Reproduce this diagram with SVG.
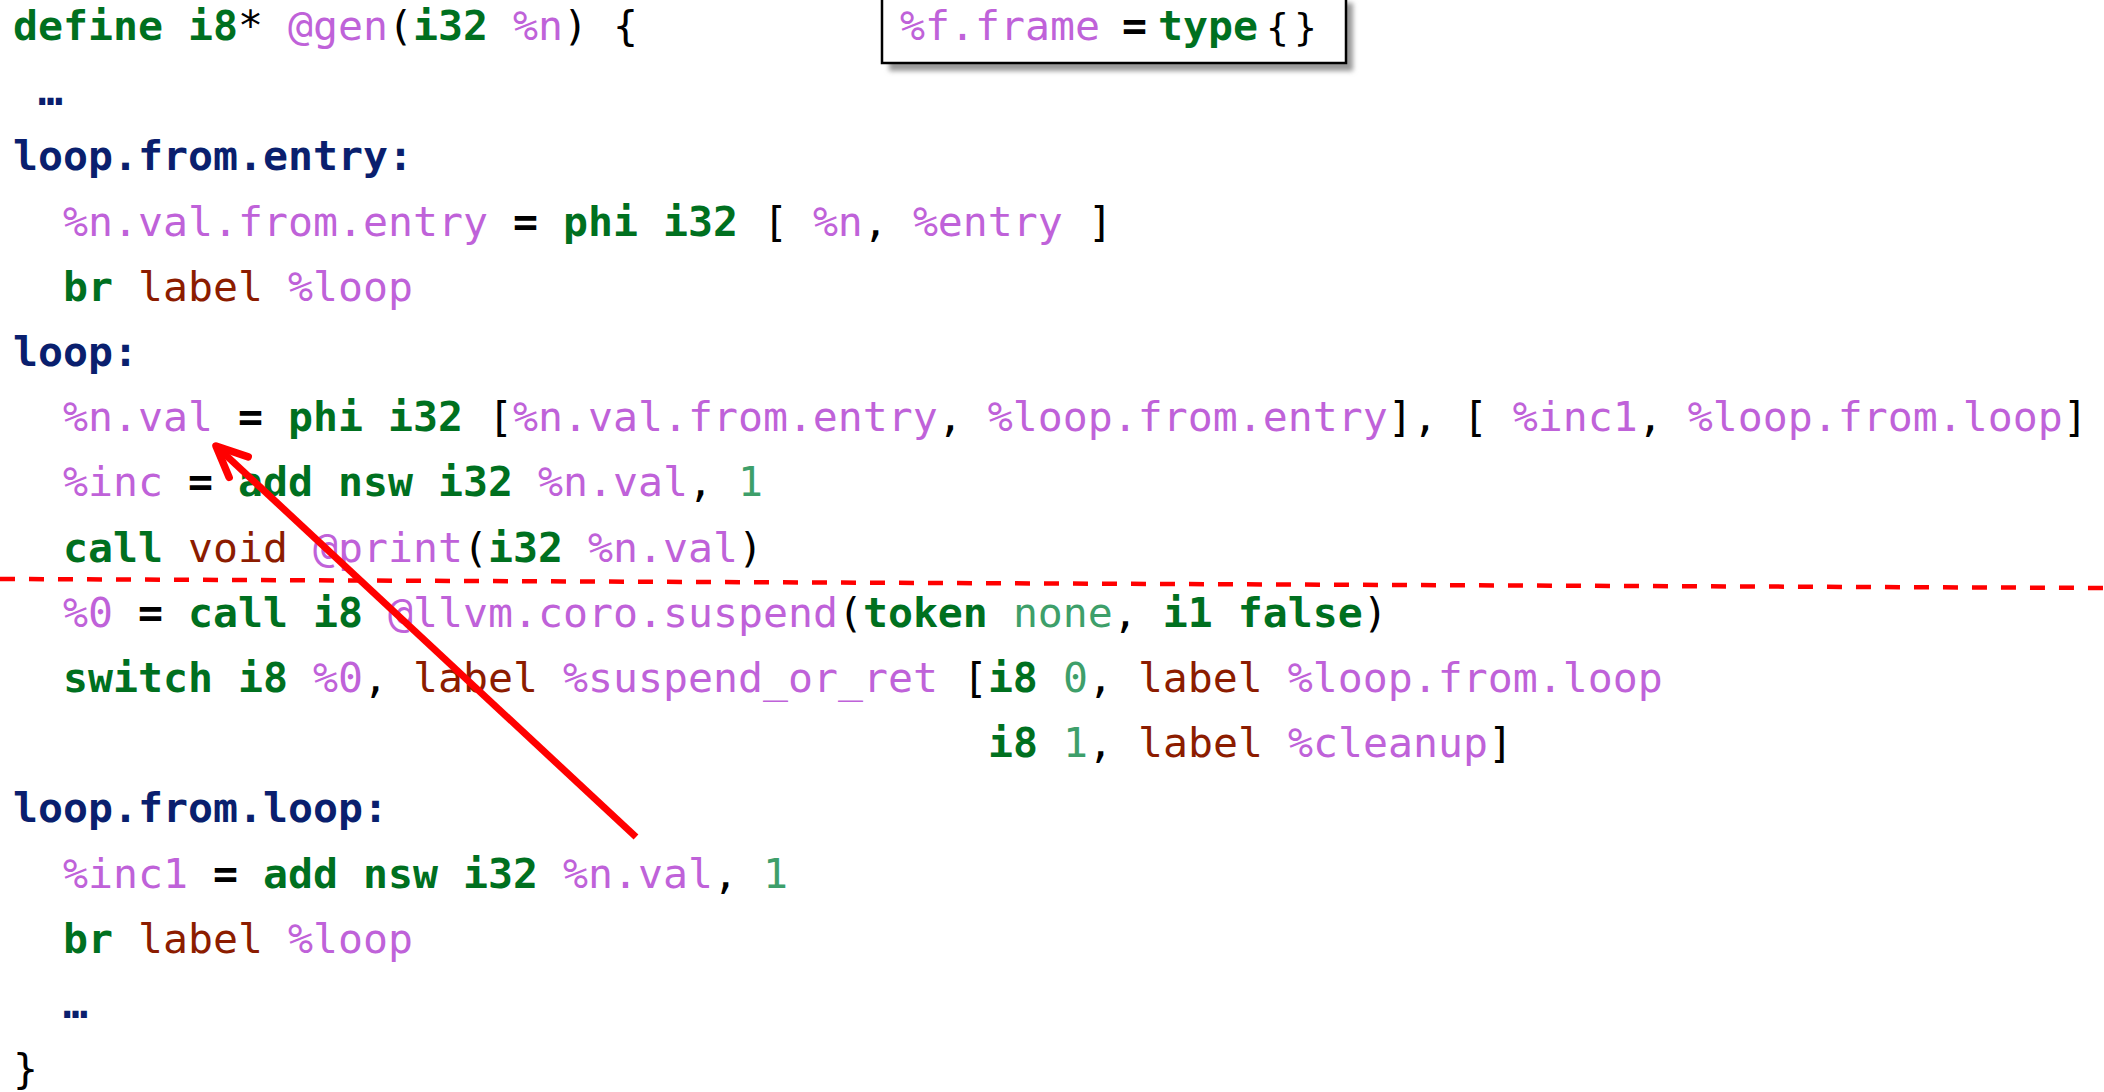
<svg xmlns="http://www.w3.org/2000/svg" width="2104" height="1092" viewBox="0 0 2104 1092">
<style>
text { font-family: "DejaVu Sans Mono", "Liberation Mono", monospace; font-size: 41.525px; fill: #000; white-space: pre; }
.k { fill: #00701F; font-weight: bold; }
.l { fill: #0A1F6E; font-weight: bold; }
.v { fill: #BF62D9; }
.b { fill: #8C1C00; }
.n { fill: #3E9F6A; }
.e { font-weight: bold; }
</style>
<defs>
<filter id="shadow" x="-10%" y="-30%" width="120%" height="160%">
<feGaussianBlur stdDeviation="2.5"/>
</filter>
<marker id="arrow" markerUnits="userSpaceOnUse" viewBox="-40 -22 46 44" refX="0" refY="0" markerWidth="46" markerHeight="44" orient="auto">
<path d="M -31 -14 L 0 0 L -31 14" fill="none" stroke="#FF0000" stroke-width="7.5" stroke-linecap="round" stroke-linejoin="round"/>
</marker>
</defs>
<g id="frame-type">
<rect x="889" y="3" width="464" height="68" fill="#9a9a9a" filter="url(#shadow)"/>
<rect x="882" y="-4" width="464" height="67" fill="#fff" stroke="#000" stroke-width="2.5"/>
<text y="40"><tspan x="900" class="v">%f.frame</tspan><tspan x="1122" class="e">=</tspan><tspan x="1158" class="k">type</tspan><tspan x="1266" font-size="38">{</tspan><tspan x="1294" font-size="38">}</tspan></text>
</g>
<g id="code">
<text id="line1" x="13" y="40"><tspan class="k">define</tspan> <tspan class="k">i8</tspan>* <tspan class="v">@gen</tspan>(<tspan class="k">i32</tspan> <tspan class="v">%n</tspan>) {</text>
<text id="line2" x="38" y="105.2" class="l">…</text>
<text id="line3" x="13" y="170.4" class="l">loop.from.entry:</text>
<text id="line4" x="63" y="235.6"><tspan class="v">%n.val.from.entry</tspan> <tspan class="e">=</tspan> <tspan class="k">phi</tspan> <tspan class="k">i32</tspan> [ <tspan class="v">%n</tspan>, <tspan class="v">%entry</tspan> ]</text>
<text id="line5" x="63" y="300.8"><tspan class="k">br</tspan> <tspan class="b">label</tspan> <tspan class="v">%loop</tspan></text>
<text id="line6" x="13" y="366" class="l">loop:</text>
<text id="line7" x="63" y="431.2"><tspan class="v">%n.val</tspan> <tspan class="e">=</tspan> <tspan class="k">phi</tspan> <tspan class="k">i32</tspan> [<tspan class="v">%n.val.from.entry</tspan>, <tspan class="v">%loop.from.entry</tspan>], [ <tspan class="v">%inc1</tspan>, <tspan class="v">%loop.from.loop</tspan>]</text>
<text id="line8" x="63" y="496.4"><tspan class="v">%inc</tspan> <tspan class="e">=</tspan> <tspan class="k">add</tspan> <tspan class="k">nsw</tspan> <tspan class="k">i32</tspan> <tspan class="v">%n.val</tspan>, <tspan class="n">1</tspan></text>
<text id="line9" x="63" y="561.6"><tspan class="k">call</tspan> <tspan class="b">void</tspan> <tspan class="v">@print</tspan>(<tspan class="k">i32</tspan> <tspan class="v">%n.val</tspan>)</text>
<text id="line10" x="63" y="626.8"><tspan class="v">%0</tspan> <tspan class="e">=</tspan> <tspan class="k">call</tspan> <tspan class="k">i8</tspan> <tspan class="v">@llvm.coro.suspend</tspan>(<tspan class="k">token</tspan> <tspan class="n">none</tspan>, <tspan class="k">i1</tspan> <tspan class="k">false</tspan>)</text>
<text id="line11" x="63" y="692"><tspan class="k">switch</tspan> <tspan class="k">i8</tspan> <tspan class="v">%0</tspan>, <tspan class="b">label</tspan> <tspan class="v">%suspend_or_ret</tspan> [<tspan class="k">i8</tspan> <tspan class="n">0</tspan>, <tspan class="b">label</tspan> <tspan class="v">%loop.from.loop</tspan></text>
<text id="line12" x="988" y="757.2"><tspan class="k">i8</tspan> <tspan class="n">1</tspan>, <tspan class="b">label</tspan> <tspan class="v">%cleanup</tspan>]</text>
<text id="line13" x="13" y="822.4" class="l">loop.from.loop:</text>
<text id="line14" x="63" y="887.6"><tspan class="v">%inc1</tspan> <tspan class="e">=</tspan> <tspan class="k">add</tspan> <tspan class="k">nsw</tspan> <tspan class="k">i32</tspan> <tspan class="v">%n.val</tspan>, <tspan class="n">1</tspan></text>
<text id="line15" x="63" y="952.8"><tspan class="k">br</tspan> <tspan class="b">label</tspan> <tspan class="v">%loop</tspan></text>
<text id="line16" x="63" y="1018" class="l">…</text>
<text id="line17" x="13" y="1083.2">}</text>
</g>
<g id="connectors">
<line x1="0" y1="579" x2="2104" y2="588" stroke="#FF0000" stroke-width="4.5" stroke-dasharray="15 14"/>
<line x1="636" y1="837" x2="216" y2="446" stroke="#FF0000" stroke-width="7" marker-end="url(#arrow)"/>
</g>
</svg>
